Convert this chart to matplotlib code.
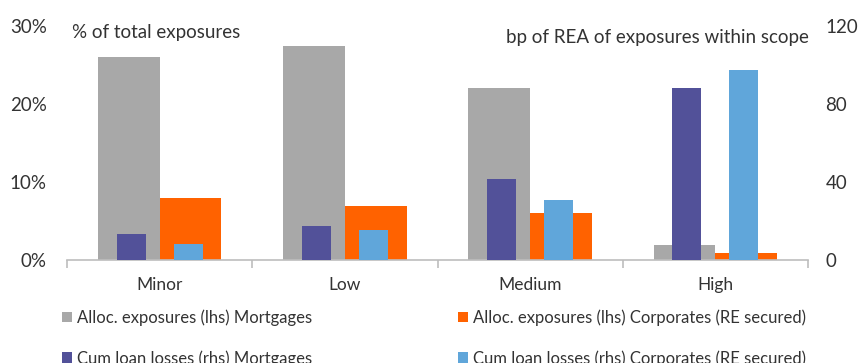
import matplotlib
matplotlib.use("Agg")
import matplotlib.pyplot as plt
from matplotlib.patches import Patch
import numpy as np

plt.rcParams['font.family'] = ['Lato', 'DejaVu Sans']

categories = ["Minor", "Low", "Medium", "High"]
alloc_mortgages = [26.0, 27.4, 22.0, 1.9]      # % of total exposures (lhs)
alloc_corporates = [8.0, 6.9, 6.0, 0.9]        # % of total exposures (lhs)
losses_mortgages = [13.5, 17.5, 41.5, 88.0]    # bp of REA (rhs)
losses_corporates = [8.2, 15.4, 30.8, 97.5]    # bp of REA (rhs)

left_ticks = [0, 10, 20, 30]
right_ticks = [0, 40, 80, 120]

c_grey = "#A8A8A8"
c_orange = "#FF6200"
c_purple = "#525199"
c_blue = "#60A6DA"
c_text = "#333333"
c_axis = "#BDBDBD"

fig = plt.figure(figsize=(8.58, 3.63), dpi=100)
ax = fig.add_axes([67/858, 1-260/363, (808-67)/858, (260-26)/363])
ax2 = ax.twinx()

x = np.arange(len(categories))
wide = 1/3
narrow = 0.157

ax.bar(x - wide/2, alloc_mortgages, width=wide, color=c_grey, zorder=2)
ax.bar(x + wide/2, alloc_corporates, width=wide, color=c_orange, zorder=2)
ax2.bar(x - 0.154, losses_mortgages, width=narrow, color=c_purple, zorder=2)
ax2.bar(x + 0.154, losses_corporates, width=narrow, color=c_blue, zorder=2)

ax.set_xlim(-0.5, len(categories) - 0.5)
ax.set_ylim(0, 30)
ax2.set_ylim(0, 120)

for a in (ax, ax2):
    for s in a.spines.values():
        s.set_visible(False)
ax.spines['bottom'].set_visible(True)
ax.spines['bottom'].set_color(c_axis)
ax.spines['bottom'].set_linewidth(1.2)

ax.set_xticks(np.arange(-0.5, len(categories), 1.0))
ax.set_xticklabels([])
ax.tick_params(axis='x', which='major', length=6, color=c_axis, width=1.2, direction='out')
ax.set_xticks(x, minor=True)
ax.set_xticklabels(categories, minor=True)
ax.tick_params(axis='x', which='minor', length=0, pad=12, labelsize=12.5, labelcolor=c_text)

ax.set_yticks(left_ticks)
ax.set_yticklabels([f"{t}%" for t in left_ticks])
ax.tick_params(axis='y', length=0, pad=14.5, labelsize=13.5, labelcolor=c_text)
ax2.set_yticks(right_ticks)
ax2.set_yticklabels([str(t) for t in right_ticks])
ax2.tick_params(axis='y', length=0, pad=12.5, labelsize=13.5, labelcolor=c_text)

fig.text(72/858, 1-38/363, "% of total exposures", fontsize=13.5, color=c_text,
         ha='left', va='baseline')
fig.text(809/858, 1-43/363, "bp of REA of exposures within scope", fontsize=13.5,
         color=c_text, ha='right', va='baseline')

h_grey = Patch(facecolor=c_grey)
h_orange = Patch(facecolor=c_orange)
h_purple = Patch(facecolor=c_purple)
h_blue = Patch(facecolor=c_blue)

leg_kw = dict(frameon=False, fontsize=12, handlelength=0.6, handleheight=0.6,
              handletextpad=0.3, labelspacing=1.45, borderpad=0, labelcolor=c_text,
              loc='upper left')
leg1 = fig.legend([h_grey, h_purple],
                  ["Alloc. exposures (lhs) Mortgages", "Cum loan losses (rhs) Mortgages"],
                  bbox_to_anchor=(54/858, 1-301/363), **leg_kw)
leg2 = fig.legend([h_orange, h_blue],
                  ["Alloc. exposures (lhs) Corporates (RE secured)",
                   "Cum loan losses (rhs) Corporates (RE secured)"],
                  bbox_to_anchor=(450/858, 1-301/363), **leg_kw)

fig.savefig("out.png", dpi=100)
